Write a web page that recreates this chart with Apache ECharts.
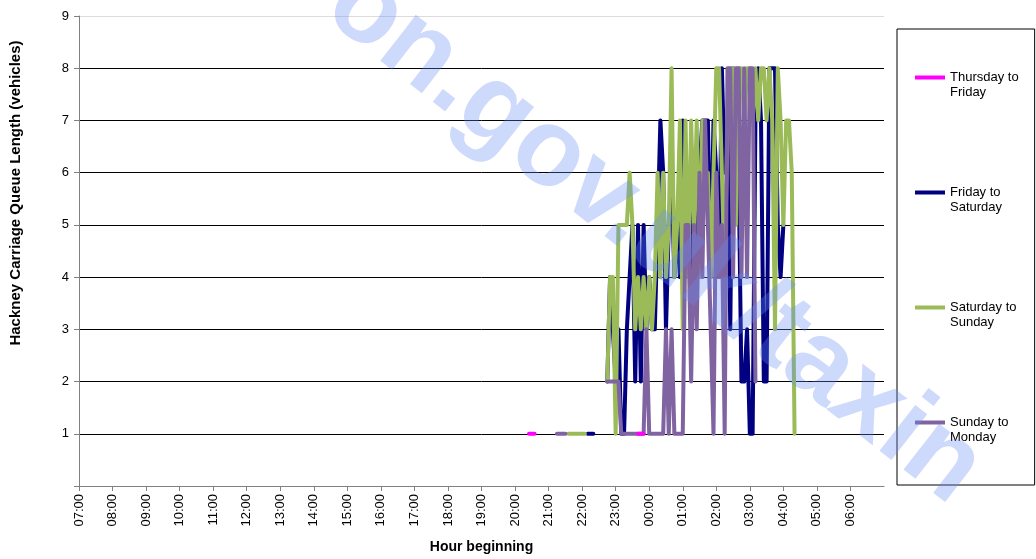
<!DOCTYPE html>
<html>
<head>
<meta charset="utf-8">
<script src="https://cdn.jsdelivr.net/npm/echarts@6/dist/echarts.min.js"></script>
<style>html,body{margin:0;padding:0;background:#fff;overflow:hidden}#c{width:1036px;height:559px}</style>
</head>
<body>
<div id="c"></div>
<script>
const N = null;
// Shared 5-minute time grid (hour beginning), 20:00 -> 04:30
const times = [
 "20:00","20:05","20:10","20:15","20:20","20:25","20:30","20:35","20:40","20:45","20:50","20:55",
 "21:00","21:05","21:10","21:15","21:20","21:25","21:30","21:35","21:40","21:45","21:50","21:55",
 "22:00","22:05","22:10","22:15","22:20","22:25","22:30","22:35","22:40","22:45","22:50","22:55",
 "23:00","23:05","23:10","23:15","23:20","23:25","23:30","23:35","23:40","23:45","23:50","23:55",
 "00:00","00:05","00:10","00:15","00:20","00:25","00:30","00:35","00:40","00:45","00:50","00:55",
 "01:00","01:05","01:10","01:15","01:20","01:25","01:30","01:35","01:40","01:45","01:50","01:55",
 "02:00","02:05","02:10","02:15","02:20","02:25","02:30","02:35","02:40","02:45","02:50","02:55",
 "03:00","03:05","03:10","03:15","03:20","03:25","03:30","03:35","03:40","03:45","03:50","03:55",
 "04:00","04:05","04:10","04:15","04:20","04:25","04:30"
];
const seriesNames = ["Thursday to Friday","Friday to Saturday","Saturday to Sunday","Sunday to Monday"];
const seriesColors = ["#FF00FF","#000080","#9BBB59","#8064A2"];

const thuFri = [
 N,N,N,N,N,1,1,1,N,N,N,N,
 N,N,N,N,N,N,N,N,N,N,N,N,
 N,N,N,N,N,N,N,N,N,N,N,N,
 N,N,N,N,N,N,N,N,1,1,1,N,
 N,N,N,N,N,N,N,N,N,N,N,N,
 N,N,N,N,N,N,N,N,N,N,N,N,
 N,N,N,N,N,N,N,N,N,N,N,N,
 N,N,N,N,N,N,N,N,N,N,N,N,
 N,N,N,N,N,N,N
];
const friSat = [
 N,N,N,N,N,N,N,N,N,N,N,N,
 N,N,N,N,N,N,N,N,N,N,N,N,
 N,N,1,1,1,N,N,N,N,2,4,3,
 2,3,1,1,3,4,5,2,5,2,5,3,
 4,3,3,5,7,6,3,5,6,4,5,4,
 7,5,6,3,6,4,6,7,7,7,4,7,
 6,4,8,6,7,3,8,7,6,2,2,3,
 1,1,7,8,7,2,2,8,8,8,5,4,
 5,N,N,N,N,N,N
];
const satSun = [
 N,N,N,N,N,N,N,N,N,N,N,N,
 N,N,N,N,N,N,N,1,1,1,1,1,
 1,1,N,N,N,N,N,N,N,2,4,4,
 1,5,5,5,5,6,5,3,4,3,4,3,
 4,3,4,6,4,6,4,5,8,4,5,7,
 3,7,4,7,5,7,4,7,6,6,4,6,
 8,8,6,4,7,8,8,5,8,8,7,8,
 8,7,8,7,8,8,7,8,7,3,8,7,
 5,7,7,6,1,N,N
];
const sunMon = [
 N,N,N,N,N,N,N,N,N,N,N,N,
 N,N,N,1,1,1,1,N,N,N,N,N,
 N,N,N,N,N,N,N,N,N,2,2,2,
 2,2,1,1,1,1,1,1,1,1,1,3,
 1,1,1,1,1,1,3,1,3,1,1,1,
 1,5,5,2,5,3,6,4,7,5,3,1,
 6,4,5,1,8,8,4,8,8,4,8,4,
 8,8,2,N,N,N,N,N,N,N,N,N,
 N,N,N,N,N,N,N
];
const seriesValues = [thuFri, friSat, satSun, sunMon];

function toHour(s){
  const p = s.split(':');
  let h = +p[0];
  if (h < 7) h += 24;
  return h + (+p[1]) / 60;
}
function pad2(n){ return (n < 10 ? '0' : '') + n; }

const FONT = 'Liberation Sans, Arial, sans-serif';
const chart = echarts.init(document.getElementById('c'), null, {renderer: 'canvas', width: 1036, height: 559});

const series = seriesNames.map((name, k) => ({
  name: name,
  type: 'line',
  z: k === 0 ? 5 : 2,
  showSymbol: false,
  symbol: 'none',
  connectNulls: false,
  color: seriesColors[k],
  lineStyle: {width: 4, color: seriesColors[k], cap: 'round', join: 'round'},
  data: times.map((t, i) => [toHour(t), seriesValues[k][i] === null ? '-' : seriesValues[k][i]])
}));

chart.setOption({
  animation: false,
  backgroundColor: '#fff',
  grid: {left: 78, right: 152, top: 16, bottom: 69, containLabel: false},
  xAxis: {
    type: 'value', min: 7, max: 31, interval: 1,
    name: 'Hour beginning', nameLocation: 'middle', nameGap: 54,
    nameTextStyle: {fontFamily: FONT, fontWeight: 'bold', fontSize: 14, color: '#000'},
    axisLine: {show: true, lineStyle: {color: '#808080', width: 1}},
    axisTick: {show: true, length: 5, lineStyle: {color: '#808080'}},
    axisLabel: {
      rotate: 90, margin: 8, fontFamily: FONT, fontSize: 13, color: '#000',
      showMaxLabel: false,
      formatter: v => v >= 31 ? '' : pad2(Math.round(v) % 24) + ':00'
    },
    splitLine: {show: false}
  },
  yAxis: {
    type: 'value', min: 0, max: 9, interval: 1,
    name: 'Hackney Carriage Queue Length (vehicles)', nameLocation: 'middle', nameGap: 56,
    nameTextStyle: {fontFamily: FONT, fontWeight: 'bold', fontSize: 15, color: '#000', padding: [0, 0, 0, 116]},
    axisLine: {show: true, lineStyle: {color: '#808080', width: 1}},
    axisTick: {show: true, length: 5, lineStyle: {color: '#808080'}},
    axisLabel: {margin: 10, fontFamily: FONT, fontSize: 13, color: '#000', formatter: v => v === 0 ? '' : String(v)},
    splitLine: {show: true, lineStyle: {color: ['#808080','#000','#000','#000','#000','#000','#000','#000','#000','#dcdcdc'], width: 1}}
  },
  legend: {
    orient: 'vertical', left: 897, top: 29,
    data: seriesNames,
    icon: 'rect', itemWidth: 30, itemHeight: 4, itemGap: 70,
    padding: [26, 16, 40, 18],
    borderColor: '#000', borderWidth: 1,
    textStyle: {fontFamily: FONT, fontSize: 13, color: '#000', lineHeight: 15},
    formatter: name => '\n' + name.replace(' to ', ' to\n')
  },
  graphic: [{
    type: 'text', z: 100, silent: true,
    x: 306, y: 34, rotation: -38 * Math.PI / 180,
    style: {text: 'on.gov.uk/taxin', font: 'bold 110px ' + FONT, fill: 'rgba(100,140,245,0.32)', align: 'left', verticalAlign: 'bottom'}
  }],
  series: series
});
</script>
</body>
</html>
